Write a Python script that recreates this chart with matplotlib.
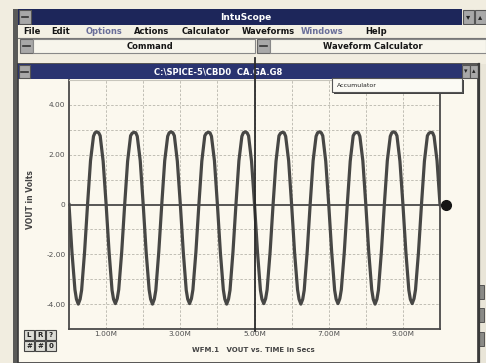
import matplotlib
matplotlib.use('Agg')
import matplotlib.pyplot as plt
from matplotlib.patches import Rectangle

W, H = 486, 363

# VOUT waveform, time in ms
time_ms = [
    0.00, 0.08, 0.16, 0.20, 0.25, 0.30, 0.34, 0.42, 0.50, 0.58, 0.66, 0.70, 0.75, 0.80, 0.84, 0.92,
    1.00, 1.08, 1.16, 1.20, 1.25, 1.30, 1.34, 1.42, 1.50, 1.58, 1.66, 1.70, 1.75, 1.80, 1.84, 1.92,
    2.00, 2.08, 2.16, 2.20, 2.25, 2.30, 2.34, 2.42, 2.50, 2.58, 2.66, 2.70, 2.75, 2.80, 2.84, 2.92,
    3.00, 3.08, 3.16, 3.20, 3.25, 3.30, 3.34, 3.42, 3.50, 3.58, 3.66, 3.70, 3.75, 3.80, 3.84, 3.92,
    4.00, 4.08, 4.16, 4.20, 4.25, 4.30, 4.34, 4.42, 4.50, 4.58, 4.66, 4.70, 4.75, 4.80, 4.84, 4.92,
    5.00, 5.08, 5.16, 5.20, 5.25, 5.30, 5.34, 5.42, 5.50, 5.58, 5.66, 5.70, 5.75, 5.80, 5.84, 5.92,
    6.00, 6.08, 6.16, 6.20, 6.25, 6.30, 6.34, 6.42, 6.50, 6.58, 6.66, 6.70, 6.75, 6.80, 6.84, 6.92,
    7.00, 7.08, 7.16, 7.20, 7.25, 7.30, 7.34, 7.42, 7.50, 7.58, 7.66, 7.70, 7.75, 7.80, 7.84, 7.92,
    8.00, 8.08, 8.16, 8.20, 8.25, 8.30, 8.34, 8.42, 8.50, 8.58, 8.66, 8.70, 8.75, 8.80, 8.84, 8.92,
    9.00, 9.08, 9.16, 9.20, 9.25, 9.30, 9.34, 9.42, 9.50, 9.58, 9.66, 9.70, 9.75, 9.80, 9.84, 9.92,
    10.00,
]
vout = [
    0.00, -1.92, -3.42, -3.80, -4.00, -3.80, -3.44, -1.90, 0.00, 1.76, 2.74, 2.88, 2.92, 2.88, 2.76, 1.74,
    0.02, -1.90, -3.44, -3.80, -3.98, -3.78, -3.42, -1.92, -0.02, 1.74, 2.76, 2.86, 2.90, 2.88, 2.74, 1.76,
    0.00, -1.92, -3.42, -3.80, -4.00, -3.80, -3.44, -1.90, 0.00, 1.76, 2.74, 2.88, 2.92, 2.88, 2.76, 1.74,
    0.02, -1.90, -3.44, -3.80, -3.98, -3.78, -3.42, -1.92, -0.02, 1.74, 2.76, 2.86, 2.90, 2.88, 2.74, 1.76,
    0.00, -1.92, -3.42, -3.80, -4.00, -3.80, -3.44, -1.90, 0.00, 1.76, 2.74, 2.88, 2.92, 2.88, 2.76, 1.74,
    0.02, -1.90, -3.44, -3.80, -3.98, -3.78, -3.42, -1.92, -0.02, 1.74, 2.76, 2.86, 2.90, 2.88, 2.74, 1.76,
    0.00, -1.92, -3.42, -3.80, -4.00, -3.80, -3.44, -1.90, 0.00, 1.76, 2.74, 2.88, 2.92, 2.88, 2.76, 1.74,
    0.02, -1.90, -3.44, -3.80, -3.98, -3.78, -3.42, -1.92, -0.02, 1.74, 2.76, 2.86, 2.90, 2.88, 2.74, 1.76,
    0.00, -1.92, -3.42, -3.80, -4.00, -3.80, -3.44, -1.90, 0.00, 1.76, 2.74, 2.88, 2.92, 2.88, 2.76, 1.74,
    0.02, -1.90, -3.44, -3.80, -3.98, -3.78, -3.42, -1.92, -0.02, 1.74, 2.76, 2.86, 2.90, 2.88, 2.74, 1.76,
    0.00,
]

x_ticks = [1, 3, 5, 7, 9]
x_tick_labels = ['1.00M', '3.00M', '5.00M', '7.00M', '9.00M']
y_ticks = [-4, -2, 0, 2, 4]
y_tick_labels = ['-4.00', '-2.00', '0', '2.00', '4.00']
cursor_ms = 5.0
end_marker_ms = 10.15

menu_items = ['File', 'Edit', 'Options', 'Actions', 'Calculator', 'Waveforms', 'Windows', 'Help']
menu_x = [32, 61, 104, 152, 206, 268, 322, 376]

BG = '#f1ede0'
PLOT_BG = '#fbf8ee'
NAVY = '#1d265a'
NAVY2 = '#2a3470'
BTN = '#a8a8a8'
WAVE = '#474745'
GRID = '#b8b6ac'
DARK = '#4a4a4a'

fig = plt.figure(figsize=(W / 100, H / 100), dpi=100)
fig.patch.set_facecolor(BG)

# window chrome in pixel coords
bg = fig.add_axes([0, 0, 1, 1])
bg.set_xlim(0, W)
bg.set_ylim(H, 0)
bg.axis('off')


def box(a, x0, y0, x1, y1, fc, ec='none', lw=0.8, z=1):
    a.add_patch(Rectangle((x0, y0), x1 - x0, y1 - y0, facecolor=fc,
                          edgecolor=ec, linewidth=lw, zorder=z))


# left border
box(bg, 13, 9, 18, H, '#5a5a58')
# outer title bar
box(bg, 18, 9, 462, 25, NAVY)
box(bg, 19, 10, 31, 24, BTN, '#555555')
bg.plot([22, 28], [17, 17], color='#333333', lw=1.2)
bg.text(246, 17.5, 'IntuScope', color='white', fontsize=6.5, fontweight='bold',
        ha='center', va='center')
for bx, sym in [(463, '\u25be'), (475, '\u25b4')]:
    box(bg, bx, 10, bx + 11, 24, BTN, '#555555')
    bg.text(bx + 5.5, 17, sym, fontsize=6, ha='center', va='center', color='#222222')

# menu bar
box(bg, 18, 25, W, 37, '#f3f0e4')
bg.plot([18, W], [37.5, 37.5], color='#777777', lw=0.8)
for name, mx in zip(menu_items, menu_x):
    col = '#6a6f9a' if name in ('Options', 'Windows') else '#151515'
    bg.text(mx, 31.5, name, fontsize=6, fontweight='bold', color=col,
            ha='center', va='center')

# command row
box(bg, 20, 39, 33, 53, BTN, '#666666')
bg.plot([23, 30], [46, 46], color='#333333', lw=1.2)
box(bg, 33, 39, 255, 53, '#f7f5ec', '#888888')
bg.text(150, 46.5, 'Command', fontsize=6, fontweight='bold', ha='center', va='center',
        color='#151515')
box(bg, 257, 39, 270, 53, BTN, '#666666')
bg.plot([260, 267], [46, 46], color='#333333', lw=1.2)
box(bg, 270, 39, W, 53, '#f7f5ec', '#888888')
bg.text(373, 46.5, 'Waveform Calculator', fontsize=6, fontweight='bold',
        ha='center', va='center', color='#151515')

# inner window
box(bg, 18, 64, 478, H, PLOT_BG, '#3a3a3a', lw=1.2)
box(bg, 18, 64, 462, 79, NAVY2)
box(bg, 19, 65, 30, 78, BTN, '#555555')
bg.plot([21, 28], [71.5, 71.5], color='#333333', lw=1.2)
bg.text(218, 71.8, 'C:\\SPICE-5\\CBD0  CA.GA.G8', color='white', fontsize=6,
        fontweight='bold', ha='center', va='center')
for bx, sym in [(462, '\u25be'), (470, '\u25b4')]:
    box(bg, bx, 65, bx + 8, 78, BTN, '#555555')
    bg.text(bx + 4, 71.5, sym, fontsize=5, ha='center', va='center', color='#222222')

# right edge strip
box(bg, 478, 64, W, H, '#e9e5d8')
bg.plot([478.5, 478.5], [64, H], color='#3a3a3a', lw=1.6)
for ty in [285, 308, 332]:
    box(bg, 479, ty, 484, ty + 14, '#8a8a86', '#444444', lw=0.6)

# bottom-left buttons
for row, labels in enumerate([['L', 'R', '?'], ['#', '#', '0']]):
    for col, lab in enumerate(labels):
        x0 = 24 + col * 11
        y0 = 330 + row * 11
        box(bg, x0, y0, x0 + 10, y0 + 10, '#dcdcd6', '#444444', lw=0.8)
        bg.text(x0 + 5, y0 + 5.3, lab, fontsize=5, fontweight='bold',
                ha='center', va='center', color='#222222')

# plot area
ax = fig.add_axes([69 / W, 1 - 329 / H, (440 - 69) / W, (329 - 80) / H])
ax.set_facecolor(PLOT_BG)
ax.set_xlim(0, 10)
ax.set_ylim(-5, 5)

for t in range(1, 10):
    ax.axvline(t, color=GRID, lw=0.6, ls=(0, (3, 2)), zorder=1)
for v in range(-4, 5):
    if v != 0:
        ax.axhline(v, color=GRID, lw=0.6, ls=(0, (3, 2)), zorder=1)

ax.plot(time_ms, vout, color=WAVE, lw=2.3, solid_joinstyle='round', zorder=3)

# zero line running to the end marker
ax.plot([0, end_marker_ms], [0, 0], color=DARK, lw=1.3, clip_on=False, zorder=4)
ax.plot([end_marker_ms], [0], 'o', ms=7, color='#151515', clip_on=False, zorder=5)

# cursor line
ax.axvline(cursor_ms, ymin=-0.01, ymax=(329 - 58) / 249, color='#2a2a2a', lw=1.3,
           clip_on=False, zorder=4)

for side in ['left', 'bottom', 'right']:
    ax.spines[side].set_color(DARK)
    ax.spines[side].set_linewidth(1.3)
ax.spines['top'].set_color('#c8c6bc')
ax.spines['top'].set_linewidth(0.8)

ax.set_xticks(x_ticks)
ax.set_xticklabels(x_tick_labels)
ax.set_yticks(y_ticks)
ax.set_yticklabels(y_tick_labels)
ax.tick_params(length=0, labelsize=5.3, labelcolor='#505050')
ax.tick_params(axis='x', pad=1.5)
ax.tick_params(axis='y', pad=2.5)

ax.set_ylabel('VOUT in Volts', fontsize=5.5, fontweight='bold', color='#444444')
ax.yaxis.set_label_coords((35 - 69) / 371, 0.52)
ax.set_xlabel('WFM.1   VOUT vs. TIME in Secs', fontsize=5, fontweight='bold', color='#444444')
ax.xaxis.set_label_coords(0.496, (329 - 347) / 249)

# accumulator drop-down, drawn over the plot
fg = fig.add_axes([0, 0, 1, 1], zorder=5)
fg.set_xlim(0, W)
fg.set_ylim(H, 0)
fg.axis('off')
box(fg, 334, 80, 464, 94, '#444444')
box(fg, 332, 78, 462, 92, '#fbfaf4', '#555555')
fg.text(337, 85.5, 'Accumulator', fontsize=4.5, ha='left', va='center', color='#222222')

fig.savefig('out.png', dpi=100, facecolor=fig.get_facecolor())
